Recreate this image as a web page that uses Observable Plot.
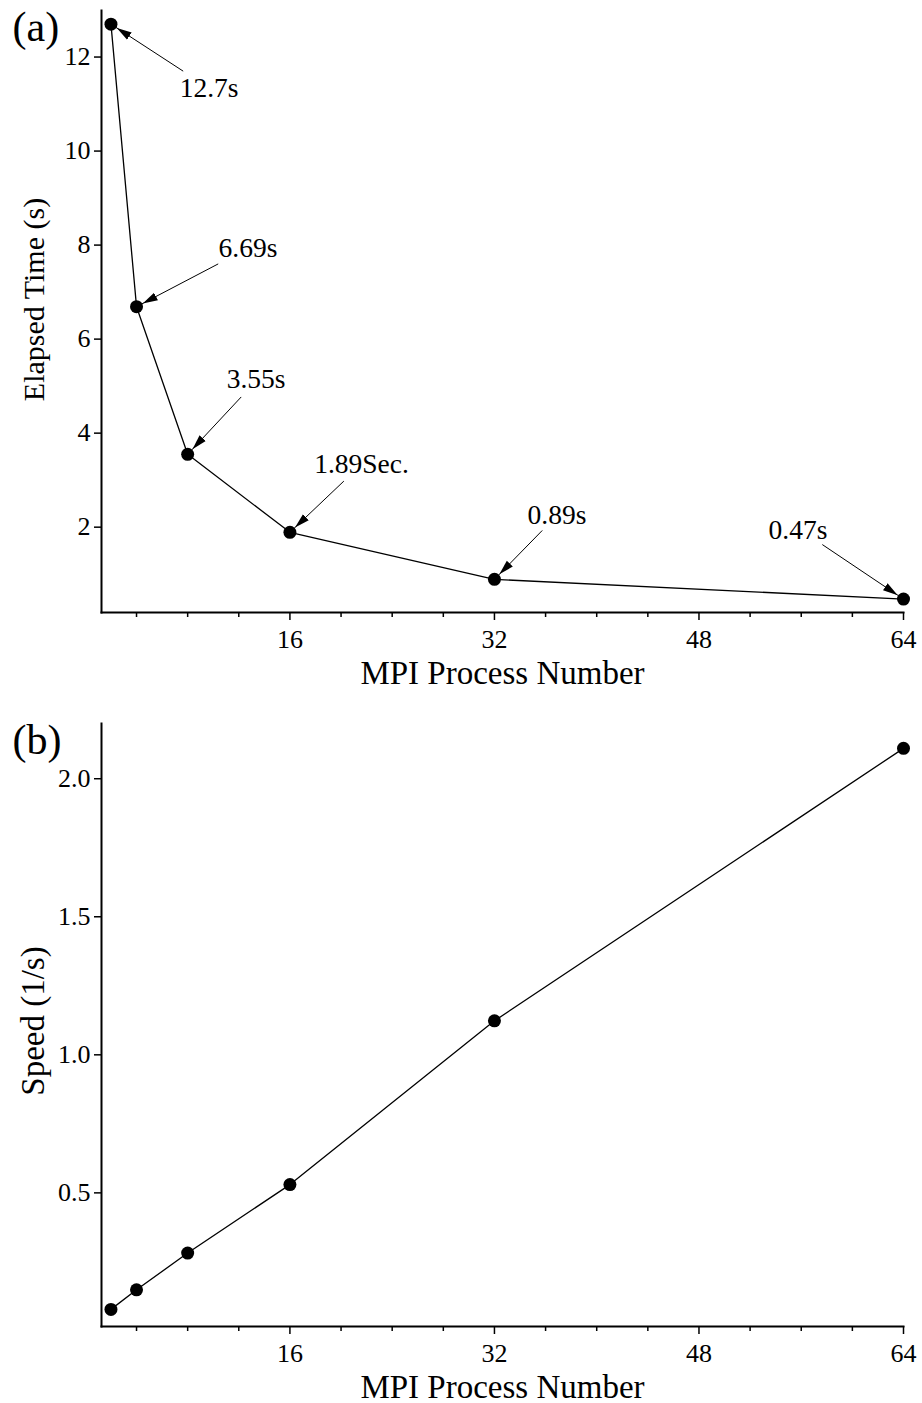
<!DOCTYPE html>
<html>
<head>
<meta charset="utf-8">
<script src="https://cdn.jsdelivr.net/npm/d3@7"></script>
<script src="https://cdn.jsdelivr.net/npm/@observablehq/plot@0.6"></script>
<style>
  html, body { margin: 0; padding: 0; background: #fff; }
  #chart svg { display: block; }
</style>
</head>
<body>
<div id="chart"></div>
<script>
// ---- data ----
const procs   = [2, 4, 8, 16, 32, 64];
const elapsed = [12.7, 6.69, 3.55, 1.89, 0.89, 0.47];
const speed   = [0.078, 0.149, 0.282, 0.53, 1.123, 2.11];

// annotations for panel (a): label, arrow tail and label anchor (data units)
const annLabels = ["12.7s", "6.69s", "3.55s", "1.89Sec.", "0.89s", "0.47s"];
const annTailX  = [7.65, 10.39, 12.19, 20.22, 35.74, 57.65];
const annTailY  = [11.70, 7.60, 4.77, 2.98, 1.93, 1.63];
const annTextX  = [9.68, 12.72, 13.35, 21.60, 36.89, 55.74];
const annTextY  = [11.14, 7.745, 4.951, 3.142, 2.072, 1.753];

const xMajor = [16, 32, 48, 64];
const xMinor = [4, 8, 12, 20, 24, 28, 36, 40, 44, 52, 56, 60];
const yTicksA = [2, 4, 6, 8, 10, 12];
const yTicksB = [0.5, 1.0, 1.5, 2.0];

const xTitle = "MPI Process Number";
const yTitleA = "Elapsed Time (s)";
const yTitleB = "Speed (1/s)";

// ---- tables ----
const rowsA = procs.map((p, i) => ({p, v: elapsed[i]}));
const rowsB = procs.map((p, i) => ({p, v: speed[i]}));
const anns = annLabels.map((label, i) => ({
  label, x1: annTailX[i], y1: annTailY[i], x2: procs[i], y2: elapsed[i],
  tx: annTextX[i], ty: annTextY[i]
}));

const FONT = '"Liberation Serif", "Times New Roman", "DejaVu Serif", serif';
const svgns = "http://www.w3.org/2000/svg";

function filledArrow(color) {
  const m = document.createElementNS(svgns, "marker");
  m.setAttribute("viewBox", "0 -5 15 10");
  m.setAttribute("markerWidth", "15");
  m.setAttribute("markerHeight", "10");
  m.setAttribute("markerUnits", "userSpaceOnUse");
  m.setAttribute("refX", "22");
  m.setAttribute("refY", "0");
  m.setAttribute("orient", "auto");
  const p = document.createElementNS(svgns, "path");
  p.setAttribute("d", "M0,-4.2L15,0L0,4.2Z");
  p.setAttribute("fill", color);
  p.setAttribute("stroke", "none");
  m.appendChild(p);
  return m;
}

const xScale = {domain: [1.26, 64], range: [101, 903]};

function axes(yTicks, yFormat) {
  return [
    Plot.axisY({ticks: yTicks, tickSize: 7, tickPadding: 4, tickFormat: yFormat,
      fontSize: 26, label: null, strokeWidth: 1.5}),
    Plot.axisX({ticks: xMinor, tickSize: 5, tickFormat: null, text: null, label: null, strokeWidth: 1.5}),
    Plot.axisX({ticks: xMajor, tickSize: 8, tickPadding: 9, tickFormat: d => String(d),
      fontSize: 26, label: null, strokeWidth: 1.5}),
    Plot.frame({anchor: "left", strokeWidth: 2}),
    Plot.frame({anchor: "bottom", strokeWidth: 2}),
    Plot.text([xTitle], {frameAnchor: "bottom", textAnchor: "middle", lineAnchor: "bottom", dy: 71, fontSize: 33, text: d => d})
  ];
}

const plotA = Plot.plot({
  width: 922, height: 690,
  marginTop: 10, marginBottom: 78, marginLeft: 101, marginRight: 19,
  style: {fontFamily: FONT, color: "#000", background: "#fff", overflow: "visible"},
  x: {...xScale, type: "linear"},
  y: {domain: [0.185, 12.99], type: "linear"},
  marks: [
    ...axes(yTicksA, d => String(d)),
    Plot.text([yTitleA], {frameAnchor: "left", textAnchor: "middle", rotate: -90, lineAnchor: "top", dx: -79, dy: -12, fontSize: 30, text: d => d}),
    Plot.text(["(a)"], {frameAnchor: "top-left", textAnchor: "start", lineAnchor: "bottom", dx: -89, dy: 30, fontSize: 42, text: d => d}),
    Plot.line(rowsA, {x: "p", y: "v", stroke: "#000", strokeWidth: 1.3}),
    Plot.link(anns, {x1: "x1", y1: "y1", x2: "x2", y2: "y2", stroke: "#000", strokeWidth: 1, markerEnd: filledArrow}),
    Plot.dot(rowsA, {x: "p", y: "v", r: 6.5, fill: "#000", stroke: "none"}),
    Plot.text(anns, {x: "tx", y: "ty", text: "label", lineAnchor: "bottom", textAnchor: "middle", fontSize: 27.5, fill: "#000"})
  ]
});

const plotB = Plot.plot({
  width: 922, height: 713,
  marginTop: 33, marginBottom: 77, marginLeft: 101, marginRight: 19,
  style: {fontFamily: FONT, color: "#000", background: "#fff", overflow: "visible"},
  x: {...xScale, type: "linear"},
  y: {domain: [0.016, 2.2], type: "linear"},
  marks: [
    ...axes(yTicksB, d3.format(".1f")),
    Plot.text([yTitleB], {frameAnchor: "left", textAnchor: "middle", rotate: -90, lineAnchor: "top", dx: -81, dy: -4, fontSize: 33, text: d => d}),
    Plot.text(["(b)"], {frameAnchor: "top-left", textAnchor: "start", lineAnchor: "bottom", dx: -89, dy: 30, fontSize: 42, text: d => d}),
    Plot.line(rowsB, {x: "p", y: "v", stroke: "#000", strokeWidth: 1.3}),
    Plot.dot(rowsB, {x: "p", y: "v", r: 6.5, fill: "#000", stroke: "none"})
  ]
});

document.getElementById("chart").append(plotA, plotB);
</script>
</body>
</html>
